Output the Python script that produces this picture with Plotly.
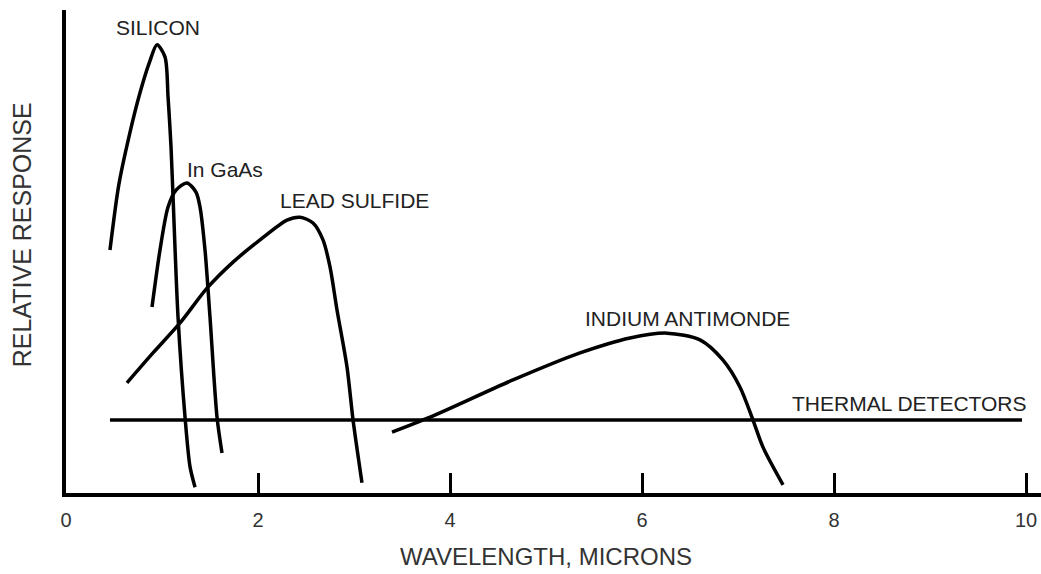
import plotly.graph_objects as go

# wavelength (microns) / relative response (0-100)
silicon_x = [0.458, 0.55, 0.66, 0.77, 0.87, 0.948, 1.031, 1.063, 1.094, 1.115, 1.167, 1.240, 1.292, 1.344]
silicon_y = [50.3, 63.8, 74.1, 82.8, 89.2, 92.8, 90.3, 82.0, 71.6, 61.3, 36.4, 15.7, 5.4, 1.2]

ingaas_x = [0.896, 0.979, 1.063, 1.146, 1.260, 1.354, 1.396, 1.448, 1.500, 1.573, 1.625]
ingaas_y = [38.5, 50.3, 59.2, 62.7, 64.2, 62.3, 59.2, 50.3, 36.4, 15.7, 8.3]

lead_x = [0.635, 0.906, 1.188, 1.469, 1.740, 2.021, 2.302, 2.438, 2.573, 2.677, 2.750, 2.823, 2.927, 2.990, 3.083]
lead_y = [22.8, 29.0, 35.2, 42.4, 47.8, 52.4, 56.5, 57.1, 55.9, 52.4, 46.8, 37.9, 26.1, 15.1, 2.1]

insb_x = [3.396, 3.792, 4.656, 5.354, 5.875, 6.260, 6.604, 6.844, 7.021, 7.156, 7.260, 7.469]
insb_y = [12.6, 15.7, 23.4, 29.0, 32.1, 33.1, 31.7, 27.5, 21.9, 15.1, 9.5, 1.7]

thermal_x = [0.458, 9.958]
thermal_y = [15.1, 15.1]

tick_vals = [0, 2, 4, 6, 8, 10]

labels = ["SILICON", "In GaAs", "LEAD SULFIDE", "INDIUM ANTIMONDE", "THERMAL DETECTORS"]
label_x = [0.958, 1.656, 3.0, 6.469, 8.79]
label_y = [96.3, 66.9, 60.5, 36.2, 18.6]

font_family = "Liberation Sans, Arial, sans-serif"

fig = go.Figure()

for xs, ys in [(silicon_x, silicon_y), (ingaas_x, ingaas_y), (lead_x, lead_y),
               (insb_x, insb_y), (thermal_x, thermal_y)]:
    fig.add_trace(go.Scatter(
        x=xs, y=ys, mode="lines",
        line=dict(color="black", width=3.5, shape="spline", smoothing=0.8),
        showlegend=False, hoverinfo="skip"
    ))

for t, x, y in zip(labels, label_x, label_y):
    fig.add_annotation(x=x, y=y, text=t, showarrow=False,
                       font=dict(size=21, color="#222", family=font_family))

fig.add_annotation(xref="paper", yref="paper", x=0.492, y=-0.1325, text="WAVELENGTH, MICRONS",
                   showarrow=False, yanchor="middle", xanchor="center",
                   font=dict(size=24, color="#333", family=font_family))
fig.add_annotation(xref="paper", yref="paper", x=-0.045, y=0.534, text="RELATIVE RESPONSE",
                   showarrow=False, textangle=-90, xanchor="center", yanchor="middle",
                   font=dict(size=25, color="#333", family=font_family))

fig.update_xaxes(
    range=[0, 10.156], showline=True, linewidth=3.5, linecolor="black",
    tickvals=tick_vals, ticktext=[str(v) for v in tick_vals],
    ticks="inside", ticklen=20, tickwidth=3, tickcolor="black",
    showgrid=False, zeroline=False,
    tickfont=dict(size=20, color="#333", family=font_family),
    ticklabelstandoff=6
)
fig.update_yaxes(
    range=[0, 100], showline=True, linewidth=3.5, linecolor="black",
    showticklabels=False, ticks="", showgrid=False, zeroline=False
)

fig.update_layout(
    width=1041, height=574,
    margin=dict(l=66, r=0, t=10, b=81),
    plot_bgcolor="white", paper_bgcolor="white"
)

# drop the default 8px body margin so the figure fills the window
fig.write_html("out.html", config={"displayModeBar": False},
               post_script="document.body.style.margin='0';")
